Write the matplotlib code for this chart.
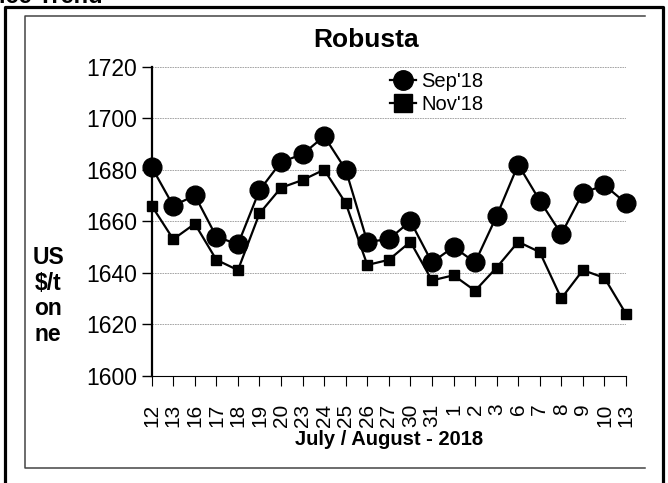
import matplotlib
matplotlib.use("Agg")
import matplotlib.pyplot as plt
from matplotlib.lines import Line2D

plt.rcParams['font.family'] = ['Liberation Sans', 'DejaVu Sans']

# days (July / August 2018)
days = ['12', '13', '16', '17', '18', '19', '20', '23', '24', '25', '26', '27',
        '30', '31', '1', '2', '3', '6', '7', '8', '9', '10', '13']
sep18 = [1681, 1666, 1670, 1654, 1651, 1672, 1683, 1686, 1693, 1680, 1652, 1653,
         1660, 1644, 1650, 1644, 1662, 1682, 1668, 1655, 1671, 1674, 1667]
nov18 = [1666, 1653, 1659, 1645, 1641, 1663, 1673, 1676, 1680, 1667, 1643, 1645,
         1652, 1637, 1639, 1633, 1642, 1652, 1648, 1630, 1641, 1638, 1624]
yticks = [1600, 1620, 1640, 1660, 1680, 1700, 1720]

W, H = 668, 483
fig = plt.figure(figsize=(W / 100, H / 100), dpi=100)

def px(x, y):
    # pixel coords (from top-left) -> figure fraction
    return x / W, 1 - y / H

# frames
ox = [5, 5, 663, 663]
oy = [H + 5, 7, 7, H + 5]
fig.add_artist(Line2D([a / W for a in ox], [1 - b / H for b in oy],
                      transform=fig.transFigure, color='black', lw=2.3))
ix = [645, 25, 25, 645]
iy = [16, 16, 468, 468]
fig.add_artist(Line2D([a / W for a in ix], [1 - b / H for b in iy],
                      transform=fig.transFigure, color='#444444', lw=1.1))

# clipped heading at the very top
x0, y0 = px(103, 3)
fig.text(x0, y0, 'Price Trend', ha='right', va='baseline',
         fontsize=17, fontweight='bold')

l, t = px(151.7, 66.7)
r, b = px(626, 375.7)
ax = fig.add_axes([l, b, r - l, t - b])

x = list(range(len(days)))
ax.plot(x, sep18, color='black', lw=1.6, marker='o', markersize=13.5,
        clip_on=False, zorder=3)
ax.plot(x, nov18, color='black', lw=1.6, marker='s', markersize=7,
        clip_on=False, zorder=3)

ax.set_xlim(0, len(days) - 1)
ax.set_ylim(1600, 1720)
ax.set_yticks(yticks)
ax.set_xticks(x)
ax.set_xticklabels(days, rotation=90, fontsize=15)
ax.tick_params(axis='y', labelsize=16.5, length=7, width=1, pad=3.5,
               direction='out')
ax.tick_params(axis='x', length=7, width=0.8, pad=13, direction='out')

for s in ['top', 'right']:
    ax.spines[s].set_visible(False)
ax.spines['left'].set_linewidth(1.6)
ax.spines['bottom'].set_linewidth(0.8)

ax.grid(axis='y', color='#999999', lw=0.6, linestyle=(0, (2, 1)))
ax.set_axisbelow(True)

ax.set_xlabel('July / August - 2018', fontsize=14.5, fontweight='bold',
              labelpad=2)

tx, ty = px(366, 40)
fig.text(tx, ty, 'Robusta', ha='center', va='center', fontsize=19,
         fontweight='bold')

yx, yy = px(48, 296)
fig.text(yx, yy, 'US\n$/t\non\nne', ha='center', va='center',
         multialignment='center', fontsize=16.5, fontweight='bold',
         linespacing=1.15)

handles = [Line2D([], [], color='black', lw=1.6, marker='o', markersize=14),
           Line2D([], [], color='black', lw=1.6, marker='s', markersize=13)]
lx, ly = px(386, 68)
leg = fig.legend(handles, ["Sep'18", "Nov'18"], loc='upper left',
                 bbox_to_anchor=(lx, ly), fontsize=14.5, frameon=True,
                 facecolor='white', edgecolor='none', framealpha=1,
                 handlelength=1.3, handletextpad=0.25, labelspacing=0.2,
                 borderpad=0.2, borderaxespad=0)

fig.savefig('out.png', dpi=100)
